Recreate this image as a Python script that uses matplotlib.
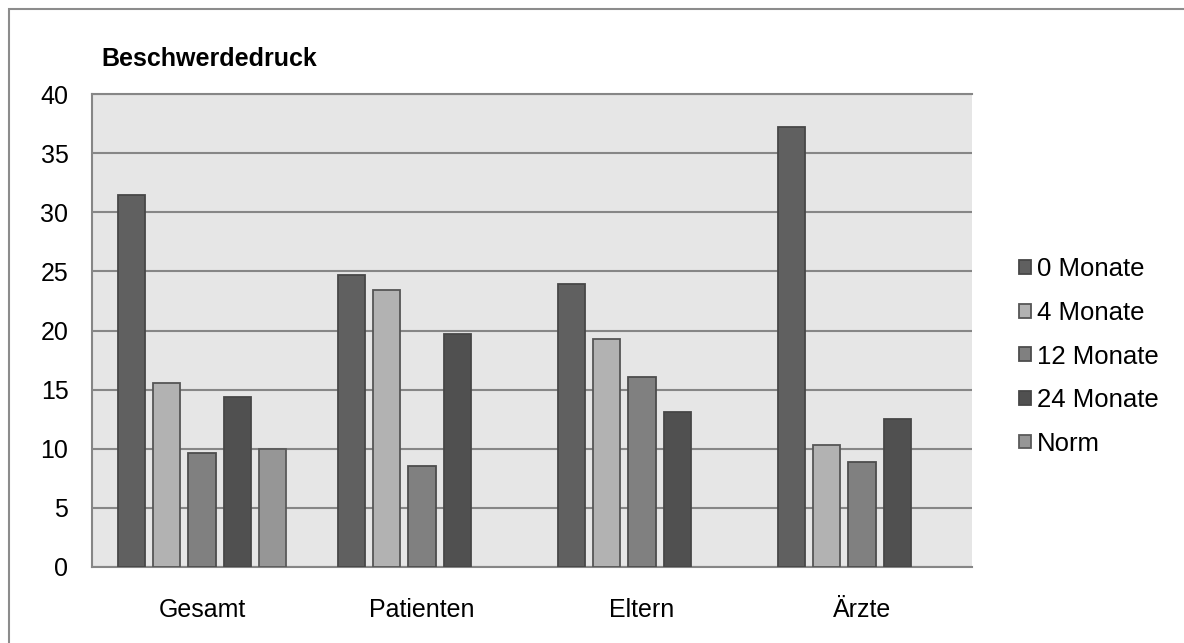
import matplotlib.pyplot as plt
import numpy as np
from matplotlib.patches import Rectangle

plt.rcParams['font.family'] = ['Liberation Sans', 'DejaVu Sans']

categories = ['Gesamt', 'Patienten', 'Eltern', 'Ärzte']
series = ['0 Monate', '4 Monate', '12 Monate', '24 Monate', 'Norm']

monate_0 = [31.5, 24.7, 23.9, 37.2]
monate_4 = [15.6, 23.4, 19.3, 10.3]
monate_12 = [9.6, 8.5, 16.1, 8.9]
monate_24 = [14.4, 19.7, 13.1, 12.5]
norm = [10.0, 0, 0, 0]

values = [monate_0, monate_4, monate_12, monate_24, norm]
colors = ['#606060', '#b2b2b2', '#808080', '#505050', '#969696']
edges = ['#474747', '#555555', '#4d4d4d', '#474747', '#5a5a5a']

fig = plt.figure(figsize=(11.84, 6.43), dpi=100)
ax = fig.add_axes([92 / 1184, 76 / 643, 880 / 1184, 473 / 643])
ax.set_facecolor('#e6e6e6')

x = np.arange(len(categories))
step = 0.161
width = 0.123
for i, (vals, c, ec, name) in enumerate(zip(values, colors, edges, series)):
    pos = x + (i - 2) * step
    shown = [v if v > 0 else np.nan for v in vals]
    ax.bar(pos, shown, width=width, color=c, edgecolor=ec, linewidth=1.3,
           label=name, zorder=3)

ax.set_xlim(-0.5, 3.5)
ax.set_ylim(0, 40)
ax.set_yticks(range(0, 41, 5))
ax.set_xticks(x)
ax.set_xticklabels(categories)
ax.grid(axis='y', color='#868686', linewidth=1.5, zorder=1)
ax.tick_params(axis='both', length=0, labelsize=18, colors='black')
ax.tick_params(axis='x', pad=22)
ax.tick_params(axis='y', pad=17)
for side in ['left', 'bottom', 'top']:
    ax.spines[side].set_color('#868686')
    ax.spines[side].set_linewidth(1.5)
ax.spines['right'].set_visible(False)

fig.text(101 / 1184, 1 - 59 / 643, 'Beschwerdedruck', fontsize=18,
         fontweight='bold', va='center', ha='left')

leg = ax.legend(loc='center left', bbox_to_anchor=(1.042, 0.445),
                frameon=False, fontsize=18.5, handlelength=0.45,
                handleheight=0.45, handletextpad=0.25, labelspacing=0.76,
                borderaxespad=0)

# outer frame, only left and top edges fall inside the image
fig.patches.append(Rectangle((9 / 1184, -0.1), 1.2, 1 - 9.5 / 643 + 0.1,
                             transform=fig.transFigure, fill=False,
                             edgecolor='#8c8c8c', linewidth=1.5))

fig.savefig('out.png', dpi=100, facecolor='white')
